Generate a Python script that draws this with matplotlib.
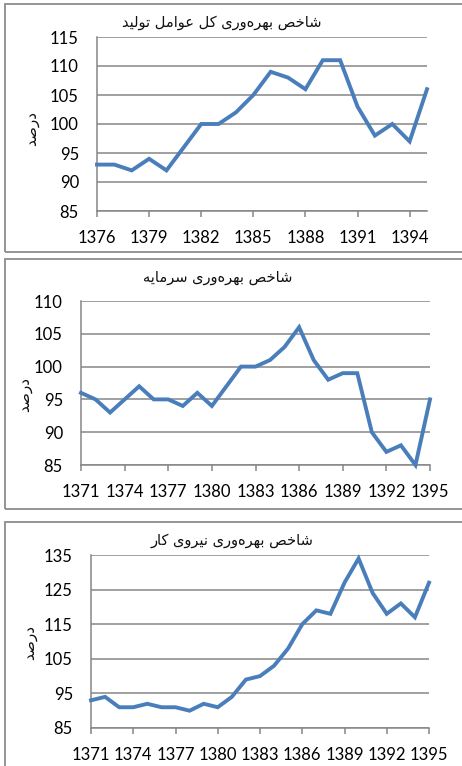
import matplotlib
matplotlib.use("Agg")
import matplotlib.pyplot as plt
from matplotlib.patches import Rectangle

# ---------------- data ----------------
years_tfp = list(range(1376, 1396))
tfp = [93, 93, 92, 94, 92, 96, 100, 100, 102, 105, 109, 108, 106, 111, 111, 103, 98, 100, 97, 106]

years_cap = list(range(1371, 1396))
capital = [96, 95, 93, 95, 97, 95, 95, 94, 96, 94, 97, 100, 100, 101, 103, 106, 101, 98, 99, 99,
           90, 87, 88, 85, 95]

years_lab = list(range(1371, 1396))
labor = [93, 94, 91, 91, 92, 91, 91, 90, 92, 91, 94, 99, 100, 103, 108, 115, 119, 118, 127, 134,
         124, 118, 121, 117, 127]

title_tfp = "شاخص بهره\u200cوری کل عوامل تولید"
title_cap = "شاخص بهره\u200cوری سرمایه"
title_lab = "شاخص بهره\u200cوری نیروی کار"
ylabel = "درصد"

xticks_tfp = [1376, 1379, 1382, 1385, 1388, 1391, 1394]
xticks_cap = [1371, 1374, 1377, 1380, 1383, 1386, 1389, 1392, 1395]
xticks_lab = [1371, 1374, 1377, 1380, 1383, 1386, 1389, 1392, 1395]
yticks_tfp = [85, 90, 95, 100, 105, 110, 115]
yticks_cap = [85, 90, 95, 100, 105, 110]
yticks_lab = [85, 95, 105, 115, 125, 135]

# ---------------- simple Arabic/Persian shaping ----------------
FORMS = {
    'ا': (0xFE8D, 0xFE8E, None, None), 'آ': (0xFE81, 0xFE82, None, None),
    'د': (0xFEA9, 0xFEAA, None, None), 'ذ': (0xFEAB, 0xFEAC, None, None),
    'ر': (0xFEAD, 0xFEAE, None, None), 'ز': (0xFEAF, 0xFEB0, None, None),
    'ژ': (0xFB8A, 0xFB8B, None, None), 'و': (0xFEED, 0xFEEE, None, None),
    'ب': (0xFE8F, 0xFE90, 0xFE91, 0xFE92), 'پ': (0xFB56, 0xFB57, 0xFB58, 0xFB59),
    'ت': (0xFE95, 0xFE96, 0xFE97, 0xFE98), 'ث': (0xFE99, 0xFE9A, 0xFE9B, 0xFE9C),
    'ج': (0xFE9D, 0xFE9E, 0xFE9F, 0xFEA0), 'چ': (0xFB7A, 0xFB7B, 0xFB7C, 0xFB7D),
    'ح': (0xFEA1, 0xFEA2, 0xFEA3, 0xFEA4), 'خ': (0xFEA5, 0xFEA6, 0xFEA7, 0xFEA8),
    'س': (0xFEB1, 0xFEB2, 0xFEB3, 0xFEB4), 'ش': (0xFEB5, 0xFEB6, 0xFEB7, 0xFEB8),
    'ص': (0xFEB9, 0xFEBA, 0xFEBB, 0xFEBC), 'ض': (0xFEBD, 0xFEBE, 0xFEBF, 0xFEC0),
    'ط': (0xFEC1, 0xFEC2, 0xFEC3, 0xFEC4), 'ظ': (0xFEC5, 0xFEC6, 0xFEC7, 0xFEC8),
    'ع': (0xFEC9, 0xFECA, 0xFECB, 0xFECC), 'غ': (0xFECD, 0xFECE, 0xFECF, 0xFED0),
    'ف': (0xFED1, 0xFED2, 0xFED3, 0xFED4), 'ق': (0xFED5, 0xFED6, 0xFED7, 0xFED8),
    'ک': (0xFB8E, 0xFB8F, 0xFB90, 0xFB91), 'گ': (0xFB92, 0xFB93, 0xFB94, 0xFB95),
    'ل': (0xFEDD, 0xFEDE, 0xFEDF, 0xFEE0), 'م': (0xFEE1, 0xFEE2, 0xFEE3, 0xFEE4),
    'ن': (0xFEE5, 0xFEE6, 0xFEE7, 0xFEE8), 'ه': (0xFEE9, 0xFEEA, 0xFEEB, 0xFEEC),
    'ی': (0xFBFC, 0xFBFD, 0xFBFE, 0xFBFF),
}


def shape(text):
    chars = list(text)
    out = []
    for i, c in enumerate(chars):
        if c not in FORMS:
            if c != '\u200c':
                out.append(c)
            continue
        prev = chars[i - 1] if i > 0 else None
        nxt = chars[i + 1] if i + 1 < len(chars) else None
        join_prev = prev in FORMS and FORMS[prev][2] is not None
        join_next = FORMS[c][2] is not None and nxt in FORMS
        iso, fin, ini, med = FORMS[c]
        if join_prev and join_next:
            g = med
        elif join_prev:
            g = fin
        elif join_next:
            g = ini
        else:
            g = iso
        out.append(chr(g))
    return ''.join(reversed(out))


# ---------------- figure ----------------
W, H = 462, 766
fig = plt.figure(figsize=(W / 100, H / 100), dpi=100)

LINE_C = '#4A7EBB'
GRID_C = '#868686'
BORDER_C = '#8C8C8C'
TICK_FONT = 'Lato'
TICK_SIZE = 12
AR_FONT = ['DejaVu Sans']


def px_box(l, t, r, b):
    return [l / W, 1 - b / H, (r - l) / W, (b - t) / H]


def border(l, t, r, b):
    fig.add_artist(Rectangle((l / W, 1 - b / H), (r - l) / W, (b - t) / H,
                             transform=fig.transFigure, fill=False,
                             edgecolor=BORDER_C, linewidth=1.3))


def panel(box, years, vals, xticks, yticks, title, title_xy, ylab_xy):
    ax = fig.add_axes(px_box(*box))
    ax.plot(years, vals, color=LINE_C, linewidth=2.8, solid_joinstyle='miter',
            zorder=3, clip_on=False)
    ax.set_xlim(years[0], years[-1])
    ax.set_ylim(yticks[0], yticks[-1])
    ax.set_yticks(yticks)
    ax.set_xticks(xticks)
    ax.set_xticklabels([str(x) for x in xticks])
    ax.set_yticklabels([str(y) for y in yticks])
    for s in ('top', 'right'):
        ax.spines[s].set_visible(False)
    for s in ('left', 'bottom'):
        ax.spines[s].set_color(GRID_C)
        ax.spines[s].set_linewidth(1.1)
    ax.yaxis.grid(True, color=GRID_C, linewidth=1.1)
    ax.set_axisbelow(True)
    ax.tick_params(axis='y', length=0, pad=13, labelsize=TICK_SIZE)
    ax.tick_params(axis='x', length=4, width=1.1, color=GRID_C, pad=10, labelsize=TICK_SIZE)
    for lab in ax.get_xticklabels() + ax.get_yticklabels():
        lab.set_fontfamily(TICK_FONT)
    ax.patch.set_alpha(0)
    fig.text(title_xy[0] / W, 1 - title_xy[1] / H, shape(title), family=AR_FONT,
             fontsize=10.5, ha='center', va='center', color='#111111')
    fig.text(ylab_xy[0] / W, 1 - ylab_xy[1] / H, shape(ylabel), family=AR_FONT,
             fontsize=11, ha='center', va='center', rotation=90, color='#111111')
    return ax


border(4.5, 4.5, 475, 252)
border(4.5, 259, 475, 509)
border(4.5, 522, 475, 780)

panel((97, 37, 427, 211), years_tfp, tfp, xticks_tfp, yticks_tfp,
      title_tfp, (222, 23), (32, 128))
panel((81, 301, 430, 465), years_cap, capital, xticks_cap, yticks_cap,
      title_cap, (218, 278), (25, 395))
panel((91, 555, 429, 728), years_lab, labor, xticks_lab, yticks_lab,
      title_lab, (232, 541), (30, 643))

fig.savefig('out.png', dpi=100)
